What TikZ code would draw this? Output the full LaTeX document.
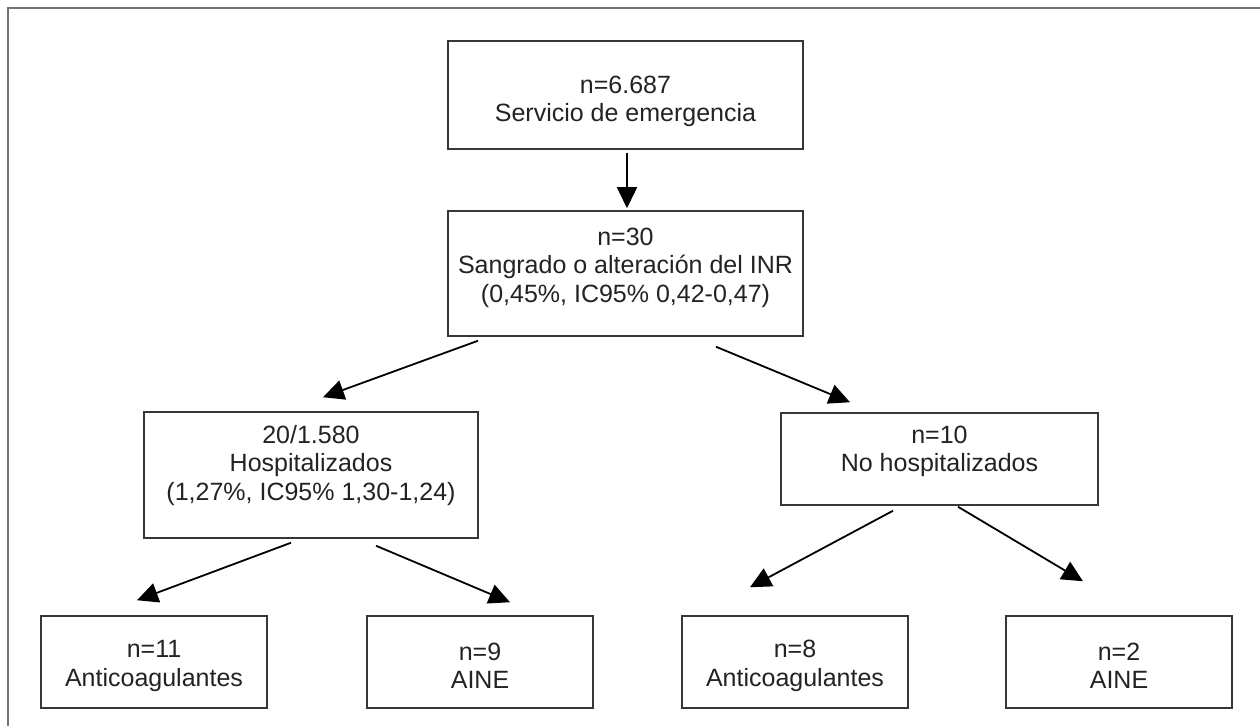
\documentclass[tikz,border=0pt]{standalone}
\usepackage{fontspec}
\setmainfont{Liberation Sans}
\usetikzlibrary{arrows.meta}
\definecolor{boxline}{RGB}{55,55,55}
\definecolor{frameline}{RGB}{115,115,115}
\definecolor{txt}{RGB}{35,35,35}
\tikzset{
  box/.style={draw=boxline, line width=0.75pt, fill=white, inner sep=0pt},
  lbl/.style={align=center, text=txt, inner sep=0pt, font=\fontsize{12.5}{14.2}\selectfont},
  arr/.style={draw=black, line width=0.9pt, -{Triangle[length=10.5pt,width=10pt]}},
}
\begin{document}
\begin{tikzpicture}[x=0.5pt,y=-0.5pt]
\useasboundingbox (0,0) rectangle (1260,726);
% outer frame (top and left edges only)
\draw[frameline, line width=1.1pt] (8,726) -- (8,8) -- (1260,8);

% boxes
\node[box, minimum width=177.5pt, minimum height=54pt,
  label={[lbl, name=ttop, yshift=-3.2pt]center:{n=6.687\\Servicio de emergencia}}]
  (top) at (625.5,95) {};
\node[box, minimum width=177.5pt, minimum height=62.5pt,
  label={[lbl, name=tb2, yshift=3pt]center:{n=30\\Sangrado o alteración del INR\\(0,45\%, IC95\% 0,42-0,47)}}]
  (b2) at (625.5,273.5) {};
\node[box, minimum width=167pt, minimum height=63pt,
  label={[lbl, name=th, yshift=4.8pt]center:{20/1.580\\Hospitalizados\\(1,27\%, IC95\% 1,30-1,24)}}]
  (h) at (311,475) {};
\node[box, minimum width=158.5pt, minimum height=46pt,
  label={[lbl, name=tnh, yshift=3.8pt]center:{n=10\\No hospitalizados}}]
  (nh) at (939.5,459) {};
\node[box, minimum width=113pt, minimum height=46pt,
  label={[lbl, name=tl1, yshift=-2pt]center:{n=11\\Anticoagulantes}}]
  (l1) at (154,662) {};
\node[box, minimum width=113pt, minimum height=46pt,
  label={[lbl, name=tl2, yshift=-2pt]center:{n=9\\AINE}}]
  (l2) at (480,662) {};
\node[box, minimum width=113pt, minimum height=46pt,
  label={[lbl, name=tr1, yshift=-2pt]center:{n=8\\Anticoagulantes}}]
  (r1) at (795,662) {};
\node[box, minimum width=113pt, minimum height=46pt,
  label={[lbl, name=tr2, yshift=-2pt]center:{n=2\\AINE}}]
  (r2) at (1119,662) {};

% connectors
\draw[arr] ([shift={(1.5,3)}]top.south) -- ([shift={(1.5,-2)}]b2.north);
\draw[arr] ([shift={(-147.5,4)}]b2.south) -- ([shift={(12,-14)}]h.north);
\draw[arr] ([shift={(90.5,10)}]b2.south) -- ([shift={(-89.5,-10)}]nh.north);
\draw[arr] ([shift={(-20,4)}]h.south) -- ([shift={(-17,-15)}]l1.north);
\draw[arr] ([shift={(65,7)}]h.south) -- ([shift={(30,-13)}]l2.north);
\draw[arr] ([shift={(-46.5,5)}]nh.south) -- ([shift={(-45,-28)}]r1.north);
\draw[arr] ([shift={(18.5,1)}]nh.south) -- ([shift={(-36,-34)}]r2.north);
\end{tikzpicture}
\end{document}
